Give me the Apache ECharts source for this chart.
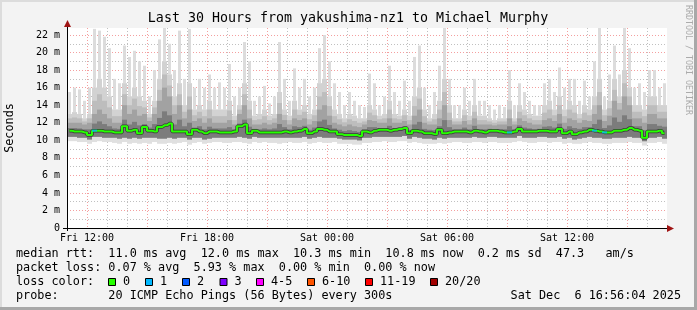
<!DOCTYPE html>
<html><head><meta charset="utf-8">
<script src="https://cdn.jsdelivr.net/npm/echarts@6/dist/echarts.min.js"></script>
<style>html,body{margin:0;padding:0;background:#f3f3f3;}#c{width:697px;height:310px;}</style>
</head><body><div id="c"></div>
<script>
// ---- time buckets: 15-minute steps starting Fri 11:00 (hours since Fri 00:00)
const START_HOUR = 11;
const STEP_HOURS = 0.25;

// median rtt per bucket (ms)
const median = [
 11.1,11.0,11.0,10.9,10.6,11.1,11.1,11.0,11.0,10.9,10.9,11.6,11.1,11.2,10.8,11.5,11.1,11.0,11.5,11.7,11.9,11.0,11.0,11.0,10.7,11.2,11.0,10.8,11.0,11.0,
 10.9,10.9,10.9,11.0,11.6,11.8,10.8,11.1,10.9,10.9,10.9,10.9,10.9,11.0,10.9,11.0,11.1,11.3,10.8,11.0,11.3,11.2,11.0,11.0,10.7,10.6,10.6,10.6,10.5,11.0,
 10.9,11.1,11.2,11.2,11.1,11.2,11.3,11.4,10.8,11.1,11.0,10.8,10.8,10.7,11.2,10.8,10.9,11.0,11.0,11.0,10.9,11.1,11.0,10.9,11.1,11.1,11.0,10.9,10.9,11.0,
 11.3,11.0,11.0,11.0,11.1,11.1,11.0,11.0,11.3,10.8,11.0,10.7,10.9,11.0,11.2,11.1,11.0,10.9,10.9,11.1,11.1,11.2,11.4,11.2,11.1,10.3,11.0,11.0,11.1,10.8
];
// slowest ping per bucket (ms)
const maxPing = [
 15.5,16.0,15.8,14.5,16.0,22.7,22.5,21.8,20.5,17.0,16.5,20.8,19.5,20.2,19.0,18.5,15.0,18.0,21.5,22.8,21.0,18.0,22.5,17.0,22.7,16.0,17.0,16.0,17.5,16.0,
 16.6,16.0,18.7,15.0,16.0,21.2,19.0,14.5,15.0,16.2,14.2,15.0,21.2,17.0,14.5,18.2,16.0,17.0,15.0,16.0,20.5,22.0,19.0,16.5,15.5,14.0,15.5,14.5,14.0,13.8,
 17.6,16.5,14.0,15.0,18.5,15.5,14.5,16.8,14.5,19.5,20.8,16.0,14.0,15.5,18.5,22.8,17.0,14.0,14.0,16.0,14.5,17.0,14.5,14.5,14.0,13.5,14.0,13.8,18.0,14.0,
 16.5,15.5,14.5,14.0,14.0,16.5,17.0,15.5,18.3,16.0,17.0,17.0,14.5,16.8,15.0,19.0,22.8,15.0,17.5,20.8,17.5,22.8,20.5,16.0,16.5,15.5,18.0,18.0,16.0,16.5
];
// upper mid-smoke per bucket (ms)
const upperPing = [
 13.0,13.2,13.0,12.5,13.0,16.0,17.0,16.0,15.0,13.5,13.5,16.5,15.0,16.0,15.0,14.5,13.0,14.5,17.0,19.0,17.5,15.0,16.5,14.0,16.5,13.5,14.0,13.5,14.5,13.5,
 13.5,13.5,14.5,12.8,14.0,16.5,14.5,12.8,13.0,13.5,12.8,13.0,15.5,13.5,12.8,14.5,13.5,14.0,13.0,13.5,16.5,17.0,15.0,13.5,13.0,12.5,13.0,12.8,12.5,12.5,
 14.0,13.5,12.8,13.0,14.5,13.0,12.8,13.5,12.8,15.0,16.0,13.5,12.5,13.0,14.5,17.0,14.0,12.5,12.5,13.5,12.8,14.0,12.8,12.8,12.5,12.3,12.5,12.5,14.5,12.5,
 14.0,13.5,13.0,12.8,12.8,14.0,14.5,13.5,15.0,13.5,14.5,14.0,13.0,14.0,13.5,15.0,17.0,13.5,14.5,17.0,15.0,18.0,16.0,14.0,14.0,13.5,15.0,15.0,14.0,14.0
];
// dense smoke top per bucket (ms)
const densePing = [
 12.0,12.0,12.0,11.8,12.0,13.0,13.5,13.0,12.5,12.0,12.0,14.0,13.0,13.5,12.8,13.0,12.2,13.0,14.5,16.0,15.0,13.0,14.0,12.5,13.5,12.2,12.5,12.0,12.5,12.0,
 12.0,12.0,12.3,11.8,13.0,14.0,12.5,11.8,11.8,12.0,11.8,12.0,13.0,12.3,11.8,12.5,12.3,12.5,11.8,12.2,13.5,14.0,12.8,12.0,11.8,11.6,11.8,11.6,11.5,11.8,
 12.3,12.2,12.0,12.0,12.5,12.0,12.0,12.2,11.8,12.8,13.5,12.0,11.8,11.8,12.5,14.0,12.3,11.8,11.8,12.2,11.8,12.5,11.8,11.8,11.8,11.7,11.8,11.8,12.5,11.8,
 12.5,12.2,12.0,11.8,11.8,12.3,12.5,12.2,13.0,12.0,12.5,12.3,12.0,12.3,12.2,13.0,14.0,12.2,12.8,14.5,13.5,15.0,14.0,12.5,12.5,12.0,13.0,13.0,12.5,12.5
];
// dense smoke bottom per bucket (ms)
const denseLow = [
 10.4,10.4,10.3,10.3,10.1,10.4,10.4,10.3,10.3,10.3,10.2,10.3,10.2,10.3,10.2,10.3,10.3,10.3,10.2,10.2,10.3,10.2,10.3,10.3,10.1,10.3,10.3,10.1,10.2,10.3,
 10.3,10.3,10.3,10.3,10.4,10.3,10.2,10.4,10.3,10.3,10.3,10.3,10.3,10.3,10.3,10.3,10.3,10.4,10.2,10.3,10.4,10.3,10.3,10.3,10.2,10.1,10.1,10.1,10.0,10.3,
 10.3,10.4,10.4,10.4,10.4,10.4,10.4,10.5,10.2,10.4,10.3,10.2,10.2,10.1,10.3,10.2,10.3,10.3,10.3,10.3,10.3,10.4,10.3,10.3,10.4,10.4,10.3,10.3,10.3,10.3,
 10.5,10.3,10.3,10.3,10.4,10.4,10.3,10.3,10.4,10.2,10.3,10.1,10.2,10.3,10.4,10.3,10.3,10.2,10.2,10.3,10.3,10.3,10.4,10.3,10.3,9.9,10.3,10.3,10.4,10.2
];
// fastest ping per bucket (ms)
const minPing = [
 9.9,9.9,9.8,9.8,9.6,9.8,9.9,9.8,9.8,9.7,9.6,9.8,9.6,9.7,9.6,9.7,9.6,9.8,9.6,9.6,9.7,9.6,9.7,9.8,9.5,9.7,9.8,9.6,9.7,9.8,
 9.8,9.7,9.7,9.8,9.8,9.7,9.6,9.8,9.7,9.8,9.7,9.7,9.6,9.7,9.8,9.7,9.7,9.8,9.6,9.7,9.8,9.7,9.7,9.8,9.6,9.6,9.6,9.5,9.5,9.7,
 9.7,9.8,9.8,9.9,9.8,9.8,9.9,9.9,9.7,9.8,9.7,9.6,9.6,9.6,9.7,9.6,9.7,9.8,9.8,9.7,9.7,9.8,9.8,9.7,9.8,9.8,9.7,9.7,9.7,9.8,
 9.9,9.8,9.7,9.7,9.8,9.8,9.7,9.8,9.8,9.6,9.7,9.6,9.6,9.7,9.8,9.7,9.7,9.6,9.6,9.7,9.7,9.7,9.8,9.7,9.7,9.4,9.7,9.7,9.8,9.6
];
// buckets where 1 of 20 pings was lost
const lossOneBuckets = [5, 88, 105, 107];

// axis ticks
const xTickHours = [12, 18, 24, 30, 36];
const xTickLabels = ['Fri 12:00', 'Fri 18:00', 'Sat 00:00', 'Sat 06:00', 'Sat 12:00'];

// legend / stats text
const lossLabels = ['0', '1', '2', '3', '4-5', '6-10', '11-19', '20/20'];
const lossColors = ['#26ff00', '#00b8ff', '#0059ff', '#7e00ff', '#ff00ff', '#ff5500', '#ff0000', '#a10000'];
const rttRow = 'median rtt:  11.0 ms avg  12.0 ms max  10.3 ms min  10.8 ms now  0.2 ms sd  47.3   am/s';
const lossRow = 'packet loss: 0.07 % avg  5.93 % max  0.00 % min  0.00 % now';
const lossColorLabel = 'loss color:';
const probeRow = 'probe:       20 ICMP Echo Pings (56 Bytes) every 300s';
const stampText = 'Sat Dec  6 16:56:04 2025';
const titleText = 'Last 30 Hours from yakushima-nz1 to Michael Murphy';

// ---------------------------------------------------------------
const FONT = '"DejaVu Sans Mono", monospace';
const TXT = '11.8px ' + FONT;
const times = median.map((_, i) => START_HOUR + (i + 0.5) * STEP_HOURS);
const smokeData = times.map((t, i) => [t, minPing[i], maxPing[i], denseLow[i], upperPing[i], densePing[i]]);
const medData = times.map((t, i) => [t, median[i]]);
const lossData = lossOneBuckets.map(i => [times[i], median[i]]);

const chart = echarts.init(document.getElementById('c'), null, {renderer: 'canvas', width: 697, height: 310});

const RED = 'rgba(235,80,80,0.55)';
const GRY = 'rgba(150,150,150,0.6)';

const graphics = [];
function txt(x, y, s, opts) {
  graphics.push(Object.assign({type: 'text', x: x, y: y, silent: true,
    style: Object.assign({text: s, font: TXT, fill: '#000', align: 'left', verticalAlign: 'middle'}, (opts && opts.style) || {})},
    (opts && opts.el) || {}));
}
// frame
graphics.push({type: 'rect', shape: {x: 0, y: 0, width: 697, height: 2}, style: {fill: '#dcdcdc'}, silent: true});
graphics.push({type: 'rect', shape: {x: 0, y: 0, width: 2, height: 310}, style: {fill: '#dcdcdc'}, silent: true});
graphics.push({type: 'rect', shape: {x: 694, y: 0, width: 3, height: 310}, style: {fill: '#a8a8a8'}, silent: true});
graphics.push({type: 'rect', shape: {x: 0, y: 307, width: 697, height: 3}, style: {fill: '#a8a8a8'}, silent: true});
// title
txt(348, 19, titleText, {style: {font: '13.3px ' + FONT, align: 'center'}});
// y name
txt(10, 128, 'Seconds', {style: {align: 'center'}, el: {rotation: Math.PI / 2}});
// watermark
txt(688, 60, 'RRDTOOL / TOBI OETIKER', {style: {font: '8.3px ' + FONT, fill: '#ababab', align: 'center'}, el: {rotation: -Math.PI / 2}});
// axis arrows
graphics.push({type: 'polygon', shape: {points: [[667, 225], [674, 228.5], [667, 232]]}, style: {fill: '#a01515'}, silent: true, z: 100});
graphics.push({type: 'polygon', shape: {points: [[64, 27], [67.5, 20], [71, 27]]}, style: {fill: '#a01515'}, silent: true, z: 100});
graphics.push({type: 'line', shape: {x1: 63, y1: 228.5, x2: 667, y2: 228.5}, style: {stroke: '#000', lineWidth: 1}, silent: true, z: 99});
graphics.push({type: 'line', shape: {x1: 67.5, y1: 27, x2: 67.5, y2: 231}, style: {stroke: '#000', lineWidth: 1}, silent: true, z: 99});
// stats rows
txt(16, 254, rttRow);
txt(16, 268, lossRow);
txt(16, 282, lossColorLabel);
const swX = [108, 145, 182, 219.5, 256, 307, 365, 430];
lossLabels.forEach((s, i) => {
  graphics.push({type: 'rect', shape: {x: swX[i] + 0.5, y: 278.5, width: 7, height: 7}, style: {fill: lossColors[i], stroke: '#000', lineWidth: 1}, silent: true});
  txt(swX[i] + 15, 282, s);
});
txt(16, 296, probeRow);
txt(681, 296, stampText, {style: {align: 'right'}});

const option = {
  backgroundColor: '#f3f3f3',
  animation: false,
  grid: {left: 67, top: 28, width: 600, height: 200, show: true, backgroundColor: '#ffffff', borderWidth: 0},
  xAxis: {
    type: 'value', min: 11, max: 41, interval: 1,
    axisLine: {show: false},
    axisTick: {show: false},
    axisLabel: {
      show: true, margin: 5, color: '#000', fontFamily: FONT, fontSize: 10,
      formatter: function (v) { const k = xTickHours.indexOf(Math.round(v * 1000) / 1000); return k >= 0 ? xTickLabels[k] : ''; }
    },
    splitLine: {show: true, showMaxLine: false, lineStyle: {color: [GRY, RED, GRY], type: [1, 2], width: 1}}
  },
  yAxis: {
    type: 'value', min: 0, max: 22.8, interval: 1,
    axisLine: {show: false},
    axisTick: {show: false},
    axisLabel: {
      show: true, margin: 7, color: '#000', fontFamily: FONT, fontSize: 10,
      formatter: function (v) {
        const r = Math.round(v * 1000) / 1000;
        if (!Number.isInteger(r) || r % 2 !== 0) return '';
        return r === 0 ? '0' : r + ' m';
      }
    },
    splitLine: {show: true, showMaxLine: false, lineStyle: {color: [RED, GRY], type: [1, 2], width: 1}}
  },
  series: [
    {
      type: 'custom', clip: true, silent: true, z: 2,
      data: smokeData,
      encode: {x: 0, y: [1, 2, 3, 4, 5]},
      renderItem: function (params, api) {
        const t = api.value(0);
        const xa = api.coord([t - STEP_HOURS / 2, 0])[0];
        const xb = api.coord([t + STEP_HOURS / 2, 0])[0];
        const w = xb - xa;
        const yy = v => api.coord([t, v])[1];
        const band = (x0, ww, a, b, fill) => ({type: 'rect', shape: {x: x0, y: yy(b), width: ww, height: yy(a) - yy(b)}, style: {fill: fill}});
        const lo = api.value(1), hi = api.value(2), dLo = api.value(3), up = api.value(4), dn = api.value(5);
        return {type: 'group', children: [
          band(xa, w, lo, up, '#e0e0e0'),
          band(xa + 1, w - 2, up, hi, '#dcdcdc'),
          band(xa, w, dLo, up, '#d2d2d2'),
          band(xa, w, dLo, (up + dn) / 2, '#bdbdbd'),
          band(xa, w, dLo, dn, '#a2a2a2'),
          band(xa, w, dLo, (dLo + dn) / 2 + 0.2, '#7c7c7c')
        ]};
      }
    },
    {
      type: 'line', data: medData, step: 'middle', showSymbol: false, silent: true, z: 3,
      lineStyle: {color: 'rgba(10,10,10,0.6)', width: 3.5}
    },
    {
      type: 'line', data: medData, step: 'middle', showSymbol: false, silent: true, z: 4,
      lineStyle: {color: lossColors[0], width: 2}
    },
    {
      type: 'scatter', data: lossData, symbol: 'rect', symbolSize: [5, 2], silent: true, z: 5,
      itemStyle: {color: lossColors[1]}
    }
  ],
  graphic: graphics
};
chart.setOption(option);
</script>
</body></html>
